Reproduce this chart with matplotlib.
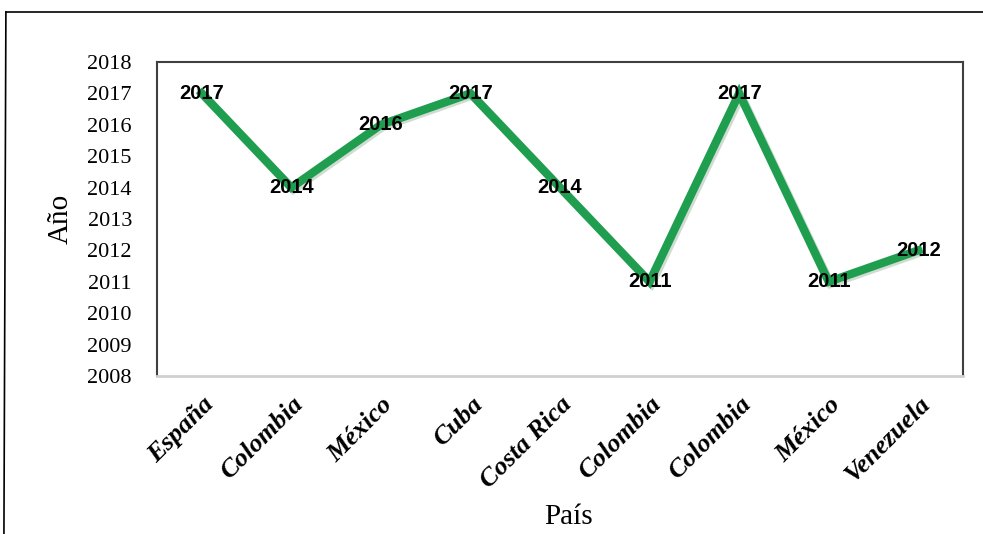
import matplotlib.pyplot as plt
import matplotlib.patheffects as pe
from matplotlib.lines import Line2D

# data
paises = ['España', 'Colombia', 'México', 'Cuba', 'Costa Rica',
          'Colombia', 'Colombia', 'México', 'Venezuela']
anios = [2017, 2014, 2016, 2017, 2014, 2011, 2017, 2011, 2012]
y_ticks = list(range(2008, 2019))

fig = plt.figure(figsize=(9.83, 5.34), dpi=100)
ax = fig.add_axes([0.1597, 0.2959, 0.82, 0.588])

x = list(range(len(paises)))
ax.plot(x, anios, color='#1f9e4f', linewidth=6, solid_joinstyle='miter',
        path_effects=[pe.SimpleLineShadow(offset=(1.5, -1.5), shadow_color='#7a9a80', alpha=0.35),
                      pe.Normal()])

# value labels
for xi, yi in zip(x, anios):
    ax.text(xi, yi, str(yi), ha='center', va='center', fontsize=14.5,
            fontweight='bold', family='Liberation Sans', color='black')

ax.set_xlim(-0.5, len(paises) - 0.5)
ax.set_ylim(2008, 2018)
ax.set_yticks(y_ticks)
ax.set_yticklabels([str(t) for t in y_ticks], family='Liberation Serif', fontsize=16)
ax.set_xticks(x)
ax.set_xticklabels(paises, rotation=45, ha='right', rotation_mode='anchor',
                   family='Liberation Serif', fontsize=19, fontweight='bold', style='italic')
ax.tick_params(axis='both', length=0)
ax.tick_params(axis='y', pad=18)
ax.tick_params(axis='x', pad=12)

for s in ['top', 'left', 'right']:
    ax.spines[s].set_color('#404040')
    ax.spines[s].set_linewidth(1.5)
ax.spines['bottom'].set_color('#d0d0d0')
ax.spines['bottom'].set_linewidth(2)

ax.set_ylabel('Año', family='Liberation Serif', fontsize=21, labelpad=10)
fig.text(0.578, 0.032, 'País', family='Liberation Serif', fontsize=21, ha='center', va='center')

# outer frame of the chart
fig.add_artist(Line2D([0.006, 1.0], [1 - 12 / 534, 1 - 12 / 534], color='black', linewidth=1.2,
                      transform=fig.transFigure))
fig.add_artist(Line2D([0.006, 0.004], [1 - 12 / 534, 0.0], color='black', linewidth=1.2,
                      transform=fig.transFigure))

plt.savefig('out.png', dpi=100)
